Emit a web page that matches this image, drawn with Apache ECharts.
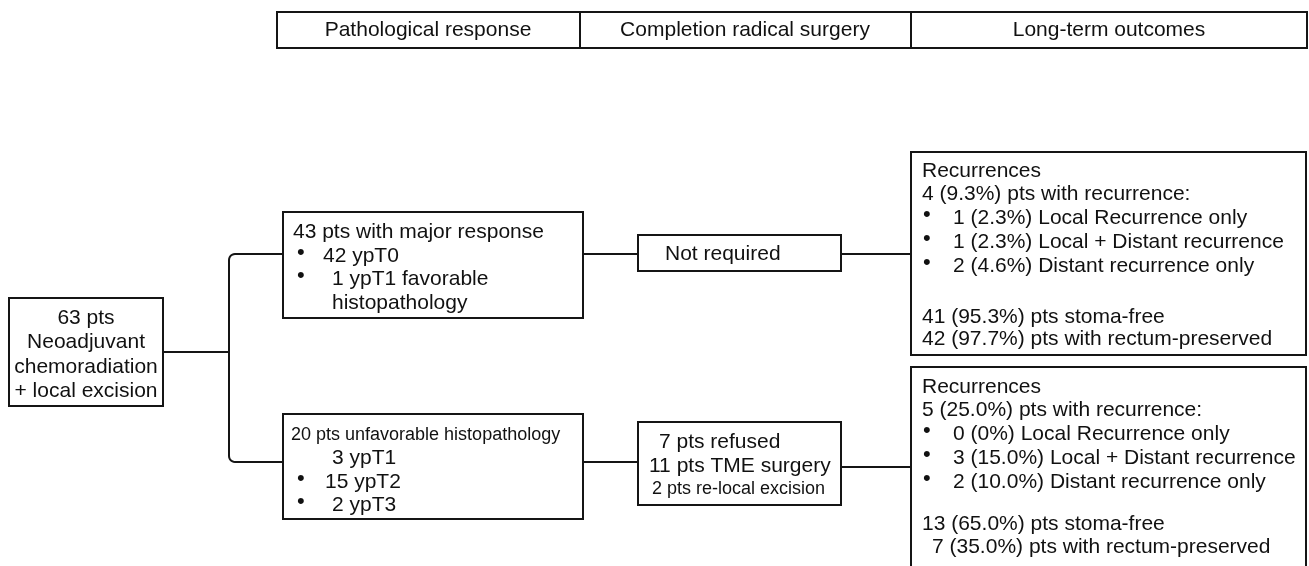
<!DOCTYPE html>
<html>
<head>
<meta charset="utf-8">
<script src="https://cdn.jsdelivr.net/npm/echarts@6/dist/echarts.min.js"></script>
<style>
  html, body { margin: 0; padding: 0; background: #fff; }
  #chart { width: 1309px; height: 566px; }
</style>
</head>
<body>
<div id="chart"></div>
<script>
// Texts of the flow diagram
const headerLabels = ['Pathological response', 'Completion radical surgery', 'Long-term outcomes'];
const rootLines = ['63 pts', 'Neoadjuvant', 'chemoradiation', '+ local excision'];
const majorLines = ['43 pts with major response', '42 ypT0', '1 ypT1 favorable', 'histopathology'];
const unfavLines = ['20 pts unfavorable histopathology', '3 ypT1', '15 ypT2', '2 ypT3'];
const majorSurgery = ['Not required'];
const unfavSurgery = ['7 pts refused', '11 pts TME surgery', '2 pts re-local excision'];
const majorOutcome = ['Recurrences', '4 (9.3%) pts with recurrence:', '1 (2.3%) Local Recurrence only',
    '1 (2.3%) Local + Distant recurrence', '2 (4.6%) Distant recurrence only',
    '41 (95.3%) pts stoma-free', '42 (97.7%) pts with rectum-preserved'];
const unfavOutcome = ['Recurrences', '5 (25.0%) pts with recurrence:', '0 (0%) Local Recurrence only',
    '3 (15.0%) Local + Distant recurrence', '2 (10.0%) Distant recurrence only',
    '13 (65.0%) pts stoma-free', '7 (35.0%) pts with rectum-preserved'];

const chart = echarts.init(document.getElementById('chart'), null, { renderer: 'canvas' });

const INK = '#151515';
const FONT = '"Liberation Sans", Arial, Helvetica, sans-serif';

function box(x0, y0, x1, y1) {
    return {
        type: 'rect', z: 2,
        shape: { x: x0, y: y0, width: x1 - x0, height: y1 - y0 },
        style: { fill: '#fff', stroke: INK, lineWidth: 2 }
    };
}

function wire(points, z) {
    return { type: 'polyline', z: z || 1, shape: { points: points }, style: { fill: null, stroke: INK, lineWidth: 2 } };
}

// quarter arc points around a centre, for the rounded elbows
function elbow(cx, cy, r, a0, a1) {
    const pts = [];
    for (let i = 0; i <= 6; i++) {
        const a = a0 + (a1 - a0) * i / 6;
        pts.push([cx + r * Math.cos(a), cy + r * Math.sin(a)]);
    }
    return pts;
}

function label(str, x, y, size, align) {
    return {
        type: 'text', z: 3,
        style: {
            text: str, x: x, y: y,
            font: (size || 21) + 'px ' + FONT,
            fill: '#111',
            align: align || 'left',
            verticalAlign: 'middle'
        }
    };
}

// line layout: [text x, y, font size, bullet x]
function block(lines, layout) {
    const out = [];
    layout.forEach(function (l, i) {
        out.push(label(lines[i], l[0], l[1], l[2]));
        if (l[3]) out.push(label('\u2022', l[3], l[1] - 3, 22));
    });
    return out;
}

const elements = [];

// header
elements.push(box(277, 12, 1307, 48));
elements.push(wire([[580, 12], [580, 48]], 3));
elements.push(wire([[911, 12], [911, 48]], 3));
elements.push(label(headerLabels[0], 428, 30, 21, 'center'));
elements.push(label(headerLabels[1], 745, 30, 21, 'center'));
elements.push(label(headerLabels[2], 1109, 30, 21, 'center'));

// connectors
const R = 6;
elements.push(wire([[163, 352], [229, 352]]));
elements.push(wire([[283, 254]]
    .concat(elbow(229 + R, 254 + R, R, -Math.PI / 2, -Math.PI))
    .concat(elbow(229 + R, 462 - R, R, Math.PI, Math.PI / 2))
    .concat([[283, 462]])));
elements.push(wire([[583, 254], [638, 254]]));
elements.push(wire([[841, 254], [911, 254]]));
elements.push(wire([[583, 462], [638, 462]]));
elements.push(wire([[841, 467], [911, 467]]));

// boxes
elements.push(box(9, 298, 163, 406));
elements.push(box(283, 212, 583, 318));
elements.push(box(283, 414, 583, 519));
elements.push(box(638, 235, 841, 271));
elements.push(box(638, 422, 841, 505));
elements.push(box(911, 152, 1306, 355));
elements.push(box(911, 367, 1306, 580));

// root
rootLines.forEach(function (t, i) {
    elements.push(label(t, 86, 318 + i * 24.5, 21, 'center'));
});

// pathological response
block(majorLines, [[293, 232, 21], [323, 256, 21, 297], [332, 279, 21, 297], [332, 303, 21]])
    .forEach(function (e) { elements.push(e); });
block(unfavLines, [[291, 435, 18], [332, 458, 21], [325, 482, 21, 297], [332, 505, 21, 297]])
    .forEach(function (e) { elements.push(e); });

// surgery
elements.push(label(majorSurgery[0], 665, 254, 21));
block(unfavSurgery, [[659, 442, 21], [649, 466, 21], [652, 489, 18]])
    .forEach(function (e) { elements.push(e); });

// outcomes
block(majorOutcome, [[922, 171, 21], [922, 194, 21], [953, 218, 21, 923], [953, 242, 21, 923],
    [953, 266, 21, 923], [922, 317, 21], [922, 339, 21]])
    .forEach(function (e) { elements.push(e); });
block(unfavOutcome, [[922, 387, 21], [922, 410, 21], [953, 434, 21, 923], [953, 458, 21, 923],
    [953, 482, 21, 923], [922, 524, 21], [932, 547, 21]])
    .forEach(function (e) { elements.push(e); });

chart.setOption({
    animation: false,
    backgroundColor: '#fff',
    graphic: { elements: elements }
});

window.addEventListener('resize', function () {
    chart.resize();
});
</script>
</body>
</html>
